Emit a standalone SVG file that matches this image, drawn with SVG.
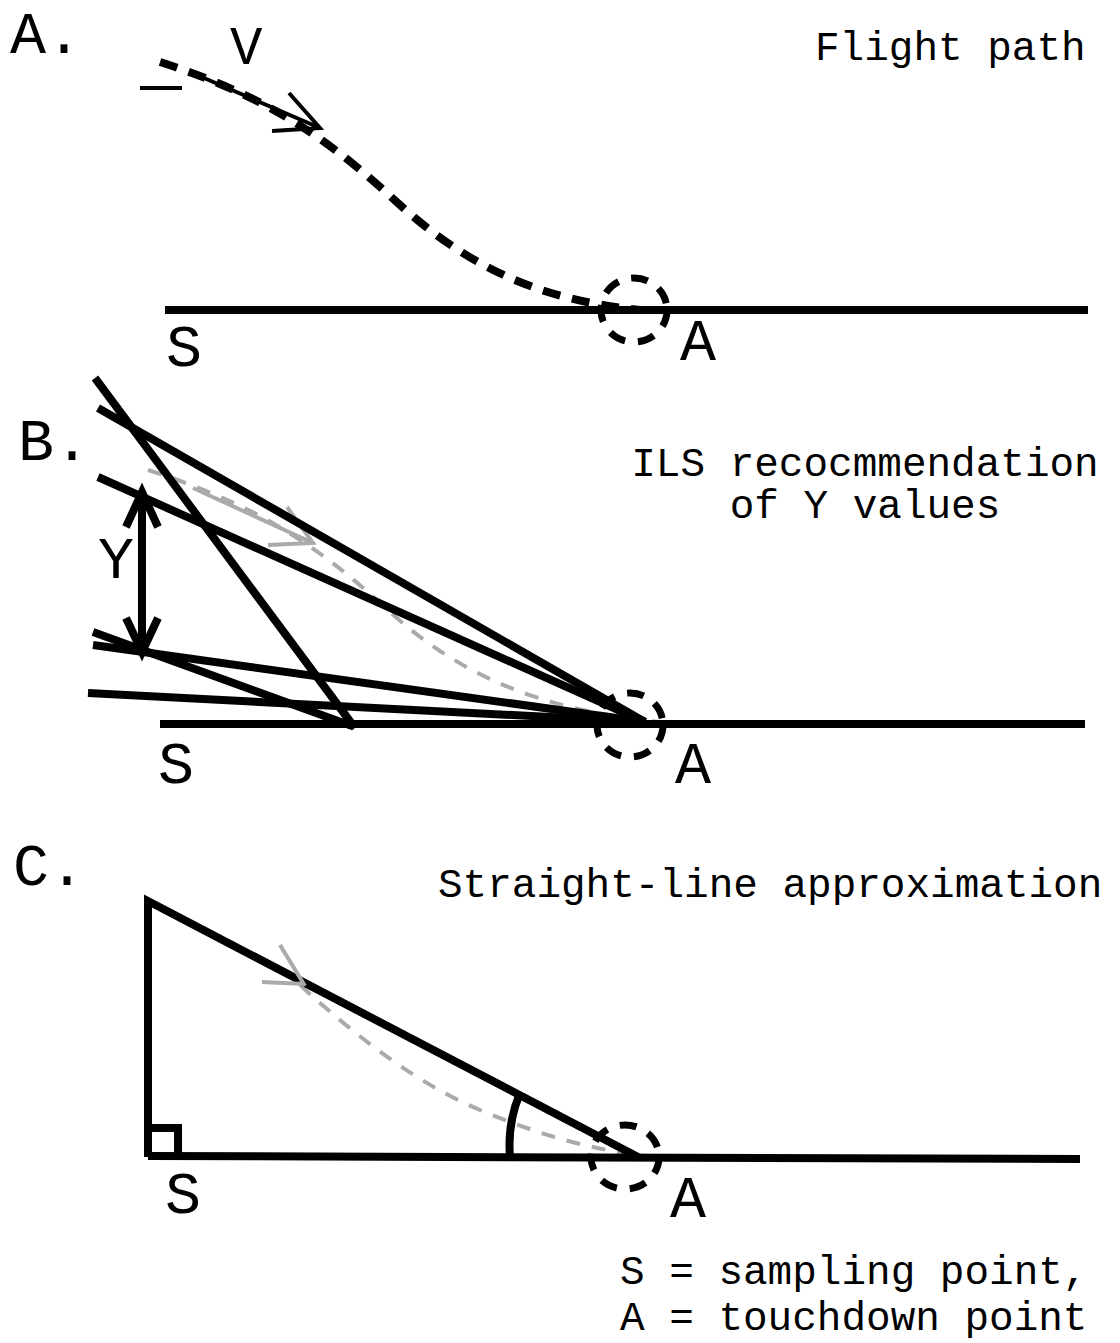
<svg xmlns="http://www.w3.org/2000/svg" width="1120" height="1343" viewBox="0 0 1120 1343">
<style>
.ln{stroke:#000;stroke-width:8;fill:none}
.thin{stroke:#000;stroke-width:4;fill:none}
.dash{stroke:#000;stroke-width:8;fill:none;stroke-dasharray:18 12}
.circ{stroke:#000;stroke-width:7;fill:none;stroke-dasharray:17 13}
.gray{stroke:#aaa;stroke-width:4;fill:none;stroke-dasharray:14 12}
.grays{stroke:#aaa;stroke-width:4;fill:none}
text{font-family:"Liberation Mono","Courier New",monospace;fill:#000}
.big{font-size:60px}
.cap{font-size:41px}
</style>
<rect width="1120" height="1343" fill="#fff"/>
<g id="panelA">
  <text class="big" x="10" y="53">A.</text>
  <text x="230" y="64" font-size="54">V</text>
  <text class="cap" x="815" y="60">Flight path</text>
  <line class="ln" x1="165" y1="310" x2="1088" y2="310"/>
  <line class="thin" x1="140" y1="88" x2="182" y2="88"/>
  <path class="dash" d="M160,62 C280,100 340,150 400,205 C470,268 540,300 640,310"/>
  <path class="thin" d="M190,72 L320,128 M289,93 L320,128 L272,131"/>
  <ellipse class="circ" cx="634" cy="310" rx="33" ry="32"/>
  <text class="big" x="166" y="366">S</text>
  <text class="big" x="680" y="360">A</text>
</g>
<g id="panelB">
  <text class="big" x="18" y="460">B.</text>
  <text class="cap" x="865" y="476" text-anchor="middle">ILS recocmmendation</text>
  <text class="cap" x="865" y="518" text-anchor="middle">of Y values</text>
  <path class="gray" d="M148,470 C268,508 328,555 390,612 C460,675 540,710 660,722"/>
  <path class="grays" d="M193,488 L313,543 M287,507 L313,543 L268,545"/>
  <line class="ln" x1="160" y1="724" x2="1085" y2="724"/>
  <line class="ln" x1="95" y1="378" x2="355" y2="728"/>
  <line class="ln" x1="98" y1="408" x2="645" y2="722"/>
  <line class="ln" x1="98" y1="477" x2="645" y2="722"/>
  <line class="ln" x1="93" y1="645" x2="645" y2="722"/>
  <line class="ln" x1="88" y1="693" x2="645" y2="722"/>
  <line class="ln" x1="93" y1="632" x2="352" y2="726"/>
  <path class="ln" stroke-width="7" d="M142,492 L142,652 M126,527 L142,492 L158,527 M126,618 L142,652 L158,618"/>
  <text class="big" x="98" y="578">Y</text>
  <ellipse class="circ" cx="630" cy="725" rx="33" ry="32"/>
  <text class="big" x="158" y="783">S</text>
  <text class="big" x="675" y="783">A</text>
</g>
<g id="panelC">
  <text class="big" x="13" y="885">C.</text>
  <text class="cap" x="438" y="897">Straight-line approximation</text>
  <path class="gray" d="M300,985 C360,1040 420,1085 480,1110 C540,1135 590,1150 660,1158"/>
  <path class="ln" stroke-linejoin="miter" d="M148,1157 L148,901 L640,1158"/>
  <line class="ln" x1="148" y1="1156" x2="1080" y2="1159"/>
  <path class="grays" d="M280,945 L305,986 M262,982 L305,984"/>
  <path class="ln" stroke-width="6" d="M148,1128 L178,1128 L178,1157"/>
  <path class="ln" stroke-width="5" d="M520,1093 A136,136 0 0 0 510,1157"/>
  <ellipse class="circ" cx="625" cy="1157" rx="34" ry="32"/>
  <text class="big" x="165" y="1213">S</text>
  <text class="big" x="670" y="1217">A</text>
  <text class="cap" x="620" y="1284">S = sampling point,</text>
  <text class="cap" x="620" y="1330">A = touchdown point</text>
</g>
</svg>
